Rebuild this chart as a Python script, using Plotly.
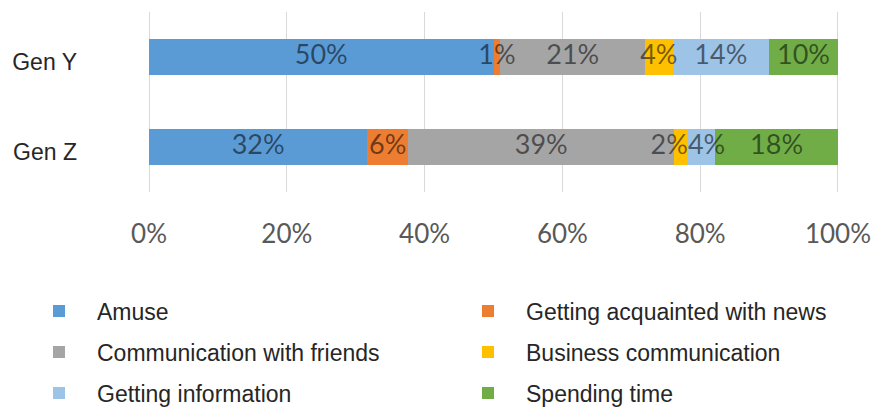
import plotly.graph_objects as go

# Share of answers per generation (shown values; each row is normalised to 100%)
generations = ["Gen Y", "Gen Z"]
series_names = [
    "Amuse",
    "Getting acquainted with news",
    "Communication with friends",
    "Business communication",
    "Getting information",
    "Spending time",
]
amuse = [50, 32]
news = [1, 6]
friends = [21, 39]
business = [4, 2]
information = [14, 4]
spending = [10, 18]

series_values = [amuse, news, friends, business, information, spending]
series_colors = ["#5B9BD5", "#ED7D31", "#A5A5A5", "#FFC000", "#9DC3E6", "#70AD47"]

x_ticks = [0, 20, 40, 60, 80, 100]

LABEL_FONT = "Lato, 'Open Sans', sans-serif"
LABEL_SIZE = 27
TEXT_FONT = "Liberation Sans, Arial, sans-serif"
PLOT_WIDTH_PX = 690

# Legend laid out as a 2-column grid: one single-entry legend per series
LEGEND_ITEMWIDTH = 66
legend_col_x = [21, 450]          # left edge of each legend column (px)
legend_row_y = [311, 352, 393]    # vertical centre of each legend row (px)

fig = go.Figure()
legend_layouts = {}
for i, (name, vals, color) in enumerate(zip(series_names, series_values, series_colors)):
    key = "legend" if i == 0 else f"legend{i + 1}"
    fig.add_trace(go.Bar(
        y=generations,
        x=vals,
        name=name,
        orientation="h",
        marker=dict(color=color, line=dict(width=0)),
        textposition="none",
        hoverinfo="name+x",
        legend=key,
    ))
    col, row = i % 2, i // 2
    legend_layouts[key] = dict(
        orientation="h",
        xref="container",
        yref="container",
        x=legend_col_x[col] / 875,
        y=1 - legend_row_y[row] / 410,
        xanchor="left",
        yanchor="middle",
        itemwidth=LEGEND_ITEMWIDTH,
        bgcolor="rgba(0,0,0,0)",
        font=dict(family=TEXT_FONT, size=23, color="#262626"),
    )


def label_half_width(text):
    """Rough half width of a value label, in axis (percent) units."""
    digits = sum(ch.isdigit() for ch in text)
    px = LABEL_SIZE * (0.58 * digits + 0.84)
    return px / 2 * 100 / PLOT_WIDTH_PX


# Value labels sit above every segment (small segments overflow onto neighbours),
# centred on each segment of the normalised stack; two labels that would collide
# are pushed to either side of their shared boundary.
label_x, label_y, label_text, label_pos = [], [], [], []
for g, gen in enumerate(generations):
    total = sum(s[g] for s in series_values)
    running = 0
    centres, edges, texts = [], [], []
    for s in series_values:
        v = s[g]
        centres.append((running + v / 2) / total * 100)
        running += v
        edges.append(running / total * 100)
        texts.append(f"{v}%")
    xs = list(centres)
    pos = ["middle center"] * len(centres)
    for k in range(len(centres) - 1):
        gap = centres[k + 1] - centres[k]
        if gap < label_half_width(texts[k]) + label_half_width(texts[k + 1]):
            xs[k], pos[k] = edges[k], "middle left"
            xs[k + 1], pos[k + 1] = edges[k], "middle right"
    label_x += xs
    label_y += [gen] * len(xs)
    label_text += texts
    label_pos += pos

fig.add_trace(go.Scatter(
    x=label_x,
    y=label_y,
    text=label_text,
    mode="text",
    textposition=label_pos,
    textfont=dict(family=LABEL_FONT, size=LABEL_SIZE, color="rgba(0,0,0,0.55)"),
    hoverinfo="skip",
    showlegend=False,
    cliponaxis=False,
))

fig.update_layout(
    barmode="stack",
    barnorm="percent",
    bargap=0.6,
    width=875,
    height=410,
    margin=dict(l=148, r=36, t=12, b=218),
    paper_bgcolor="white",
    plot_bgcolor="white",
    font=dict(family=TEXT_FONT, color="#262626"),
    xaxis=dict(
        range=[-0.15, 100.15],
        tickvals=x_ticks,
        ticktext=[f"{t}%" for t in x_ticks],
        showgrid=True,
        gridcolor="#D9D9D9",
        gridwidth=1,
        zeroline=False,
        showline=False,
        ticks="",
        ticklabelstandoff=24,
        tickfont=dict(family=LABEL_FONT, size=26, color="#595959"),
        automargin=False,
        fixedrange=True,
    ),
    yaxis=dict(
        autorange="reversed",
        showgrid=False,
        zeroline=False,
        showline=False,
        ticks="",
        ticklabelstandoff=70,
        ticklabelshift=-5,
        tickfont=dict(family=TEXT_FONT, size=23, color="#262626"),
        automargin=False,
        fixedrange=True,
    ),
    showlegend=True,
    **legend_layouts,
)

fig.write_html("out.html")
